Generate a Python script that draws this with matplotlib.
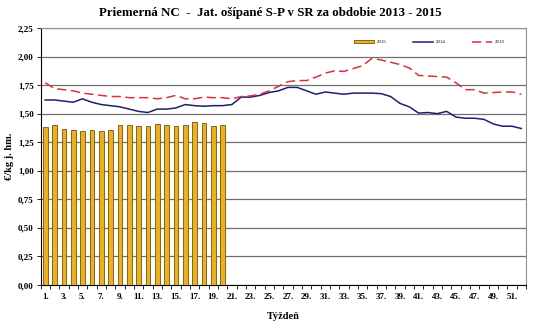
import matplotlib
matplotlib.use('Agg')
import matplotlib.pyplot as plt
import numpy as np
from matplotlib.ticker import FixedLocator, FuncFormatter

# weekly average prices, EUR/kg live weight
weeks = list(range(1, 53))

price_2015 = [1.38, 1.40, 1.37, 1.36, 1.35, 1.36, 1.35, 1.36, 1.40, 1.40,
              1.39, 1.39, 1.41, 1.40, 1.39, 1.40, 1.43, 1.42, 1.39, 1.40]

price_2014 = [1.62, 1.62, 1.61, 1.60, 1.63, 1.60, 1.58, 1.57, 1.56, 1.54,
              1.52, 1.51, 1.54, 1.54, 1.55, 1.58, 1.57, 1.565, 1.57, 1.57,
              1.58, 1.645, 1.645, 1.66, 1.685, 1.70, 1.73, 1.73, 1.70, 1.67,
              1.69, 1.68, 1.67, 1.68, 1.68, 1.68, 1.675, 1.65, 1.59, 1.56,
              1.505, 1.51, 1.50, 1.52, 1.47, 1.46, 1.46, 1.45, 1.41, 1.39,
              1.39, 1.37]

price_2013 = [1.77, 1.72, 1.71, 1.70, 1.68, 1.67, 1.66, 1.65, 1.65, 1.64,
              1.64, 1.64, 1.63, 1.64, 1.66, 1.63, 1.63, 1.645, 1.64, 1.64,
              1.63, 1.65, 1.655, 1.67, 1.70, 1.74, 1.78, 1.79, 1.79, 1.82,
              1.855, 1.875, 1.87, 1.895, 1.92, 1.985, 1.97, 1.95, 1.93, 1.90,
              1.835, 1.83, 1.825, 1.82, 1.77, 1.71, 1.71, 1.68, 1.685, 1.69,
              1.69, 1.67]

serif = ['Liberation Serif', 'DejaVu Serif']

fig = plt.figure(figsize=(5.4, 3.29), dpi=100)
ax = fig.add_axes([40.5 / 540, 44 / 329, 485.5 / 540, 257 / 329])

x = np.arange(len(weeks))
bars = ax.bar(x[:len(price_2015)], price_2015, width=0.5, color='#EEB01A',
              edgecolor='#6E5410', linewidth=0.6, label='2015', zorder=3)
l14, = ax.plot(x, price_2014, color='#1F1F6E', linewidth=1.1, label='2014', zorder=4)
l13, = ax.plot(x, price_2013, color='#D9303A', linewidth=1.1, dashes=(6, 3),
               label='2013', zorder=4)

ax.set_xlim(-0.5, len(weeks) - 0.5)
ax.set_ylim(0, 2.25)
ax.yaxis.set_major_locator(FixedLocator(np.arange(0, 2.26, 0.25)))
ax.yaxis.set_major_formatter(FuncFormatter(lambda v, p: f'{v:.2f}'.replace('.', ',')))
ax.grid(axis='y', color='#707070', linewidth=0.9, zorder=0)

ax.set_xticks(x[::2])
ax.set_xticklabels([f'{w}.' for w in weeks[::2]])
ax.set_xticks(np.arange(-0.5, len(weeks), 1), minor=True)
ax.tick_params(axis='x', which='major', length=0, pad=6)
ax.tick_params(axis='x', which='minor', length=3, width=0.6, direction='out')
ax.tick_params(axis='y', length=3, width=0.6, direction='out', pad=2)

for lbl in ax.get_xticklabels() + ax.get_yticklabels():
    lbl.set_family(serif)
    lbl.set_fontsize(6.5)
    lbl.set_fontweight('bold')

for side in ['top', 'right']:
    ax.spines[side].set_color('#909090')
    ax.spines[side].set_linewidth(0.8)
ax.spines['left'].set_linewidth(0.8)
ax.spines['bottom'].set_linewidth(0.8)

ax.set_ylabel('€/kg j. hm.', family=serif, fontsize=7.5, fontweight='bold', labelpad=3)
ax.set_xlabel('Týždeň', family=serif, fontsize=7.5, fontweight='bold', labelpad=8)

fig.suptitle('Priemerná NC  -  Jat. ošípané S-P v SR za obdobie 2013 - 2015',
             family=serif, fontsize=9.3, fontweight='bold', x=0.5, y=0.978)

ax.legend([bars, l14, l13], ['2015', '2014', '2013'], loc='upper right',
          bbox_to_anchor=(0.965, 0.97), ncol=3, frameon=False,
          handlelength=4, columnspacing=5.5, handletextpad=0.6,
          prop={'family': serif, 'size': 3.5})

fig.savefig('out.png', dpi=100)
